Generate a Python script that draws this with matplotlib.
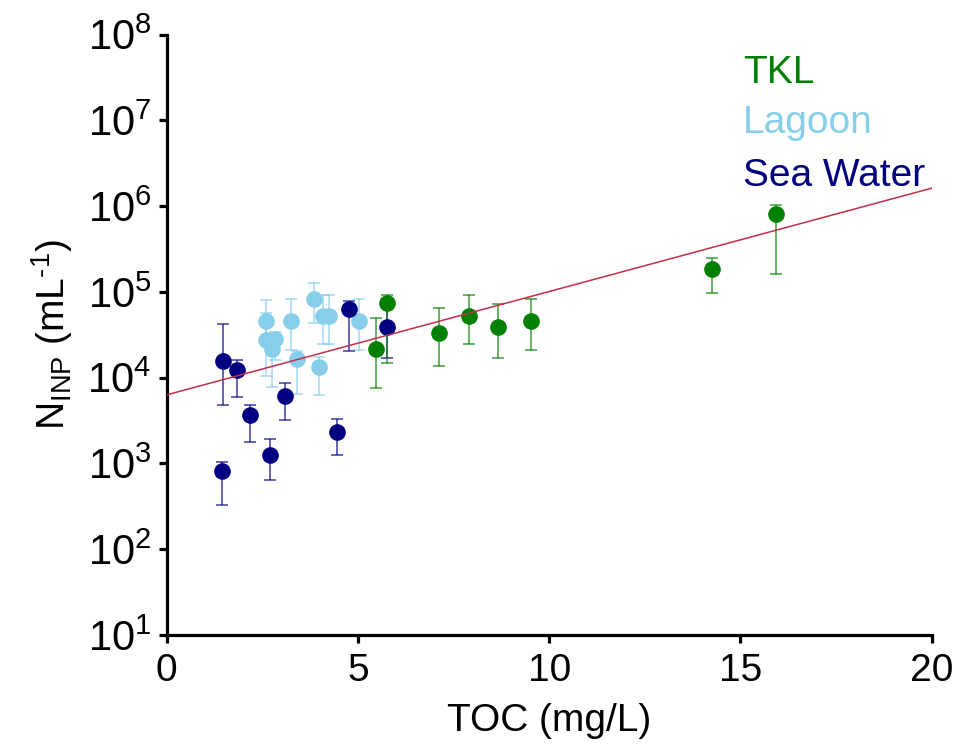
import matplotlib
matplotlib.use("Agg")
import matplotlib.pyplot as plt
import numpy as np
from matplotlib.ticker import LogLocator, FuncFormatter, NullLocator

plt.rcParams['font.family'] = ['Liberation Sans', 'DejaVu Sans']
plt.rcParams['mathtext.fontset'] = 'custom'
plt.rcParams['mathtext.rm'] = 'Liberation Sans'
plt.rcParams['mathtext.it'] = 'Liberation Sans:italic'
plt.rcParams['mathtext.bf'] = 'Liberation Sans:bold'

# ---- data (TOC mg/L, N_INP per mL, lower / upper error-bar ends) ----
tkl_x = [5.47, 5.75, 7.13, 7.89, 8.65, 9.53, 14.26, 15.93]
tkl_y = [2.14e4, 7.5e4, 3.3e4, 5.24e4, 3.94e4, 4.6e4, 1.85e5, 8.1e5]
tkl_lo = [7.6e3, 1.47e4, 1.37e4, 2.49e4, 1.71e4, 2.08e4, 9.6e4, 1.6e5]
tkl_hi = [4.97e4, 9.2e4, 6.5e4, 9.1e4, 7.3e4, 8.2e4, 2.5e5, 1.02e6]

lag_x = [2.60, 2.60, 2.83, 2.74, 3.24, 3.41, 3.86, 4.08, 4.23, 3.99, 5.03]
lag_y = [4.6e4, 2.75e4, 2.8e4, 2.14e4, 4.6e4, 1.65e4, 8.3e4, 5.3e4, 5.3e4, 1.34e4, 4.6e4]
lag_lo = [2.6e4, 1.05e4, 1.6e4, 7.7e3, 2.1e4, 6.5e3, 4.3e4, 2.5e4, 2.5e4, 6.3e3, 2.1e4]
lag_hi = [8.1e4, 5.6e4, 3.4e4, 2.6e4, 8.2e4, 2.07e4, 1.28e5, 9.1e4, 9.1e4, 1.73e4, 8.2e4]

sea_x = [1.46, 1.83, 2.19, 1.44, 2.70, 3.10, 4.44, 4.76, 5.75]
sea_y = [1.57e4, 1.22e4, 3.67e3, 8.24e2, 1.26e3, 6.07e3, 2.35e3, 6.26e4, 3.94e4]
sea_lo = [4.84e3, 5.9e3, 1.78e3, 3.28e2, 6.41e2, 3.19e3, 1.25e3, 2.07e4, 1.71e4]
sea_hi = [4.19e4, 1.6e4, 4.8e3, 1.05e3, 1.93e3, 8.7e3, 3.27e3, 7.9e4, 7.37e4]

fit_x = [0, 20]
fit_y = [6.3e3, 1.62e6]

groups = ["TKL", "Lagoon", "Sea Water"]
colors = ["#008000", "#87CEEB", "#000080"]

fig = plt.figure(figsize=(9.57, 7.45), dpi=100)
ax = fig.add_axes([0.1742, 0.1477, 0.7994, 0.8059])

series = [(tkl_x, tkl_y, tkl_lo, tkl_hi),
          (lag_x, lag_y, lag_lo, lag_hi),
          (sea_x, sea_y, sea_lo, sea_hi)]
order = [1, 2, 0]
for i in order:
    xs, ys, lo, hi = series[i]
    ys = np.array(ys); lo = np.array(lo); hi = np.array(hi)
    yerr = np.vstack([ys - lo, hi - ys])
    ax.errorbar(xs, ys, yerr=yerr, fmt='none', ecolor=colors[i], alpha=0.65,
                elinewidth=1.3, capsize=4.5, capthick=1.3, zorder=2)
    ax.plot(xs, ys, 'o', color=colors[i], markersize=12, markeredgewidth=0, zorder=3)

ax.plot(fit_x, fit_y, color='#C0304A', lw=1.1, zorder=4)

ax.set_yscale('log')
ax.set_xlim(0, 20)
ax.set_ylim(1e1, 1e8)
ax.set_xticks([0, 5, 10, 15, 20])
ax.yaxis.set_major_locator(LogLocator(base=10, numticks=20))
ax.yaxis.set_minor_locator(NullLocator())
ax.yaxis.set_major_formatter(FuncFormatter(lambda v, p: r'$\mathregular{10^{%d}}$' % round(np.log10(v))))

for s in ['top', 'right']:
    ax.spines[s].set_visible(False)
for s in ['left', 'bottom']:
    ax.spines[s].set_linewidth(2.3)
ax.tick_params(axis='both', which='major', direction='out', length=6, width=2.3, pad=5)
ax.tick_params(axis='y', labelsize=30)
ax.tick_params(axis='x', labelsize=28, pad=7)

ax.set_xlabel('TOC (mg/L)', fontsize=28, labelpad=10)
ax.set_ylabel(r'N$_{\mathregular{INP}}$ (mL$^{\mathregular{\text{-}1}}$)', fontsize=28, labelpad=9)

text_y = [0.9199, 0.8356, 0.7483]
for g, c, ty in zip(groups, colors, text_y):
    ax.text(0.7533, ty, g, color=c, fontsize=28, transform=ax.transAxes, va='baseline', ha='left')

fig.savefig('out.png', dpi=100)
